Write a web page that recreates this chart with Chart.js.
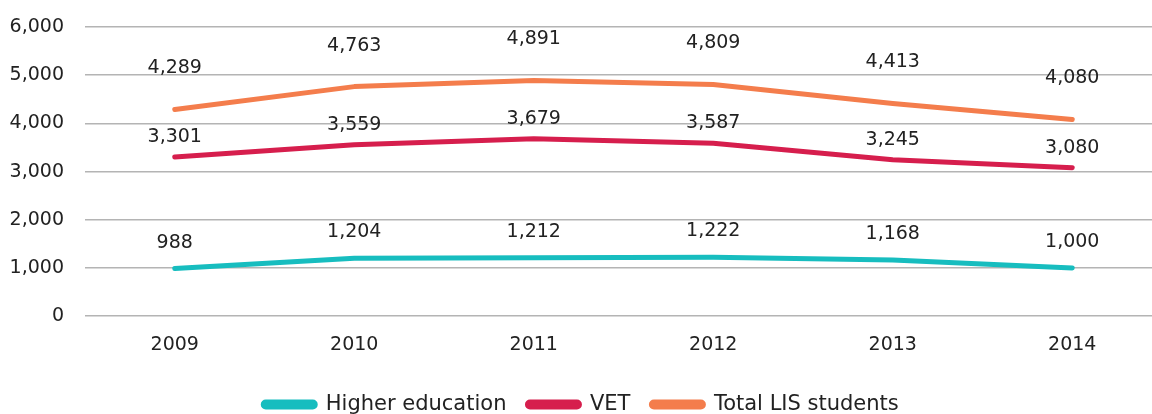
<!DOCTYPE html>
<html>
<head>
<meta charset="utf-8">
<script src="https://cdn.jsdelivr.net/npm/chart.js@4/dist/chart.umd.min.js"></script>
<style>
  html, body { margin: 0; padding: 0; background: #fff; overflow: hidden; }
  #wrap { width: 1162px; height: 425px; }
</style>
</head>
<body>
<div id="wrap"><canvas id="c" width="1162" height="425"></canvas></div>
<script>
const years = ['2009', '2010', '2011', '2012', '2013', '2014'];
const higherEducation = [988, 1204, 1212, 1222, 1168, 1000];
const vet = [3301, 3559, 3679, 3587, 3245, 3080];
const totalLIS = [4289, 4763, 4891, 4809, 4413, 4080];
const seriesNames = ['Higher education', 'VET', 'Total LIS students'];
const yTicks = [0, 1000, 2000, 3000, 4000, 5000, 6000];

const FONT = '"DejaVu Sans", sans-serif';
const FSIZE = 19;
const TXT = '#222222';

const labelPlugin = {
  id: 'pointLabels',
  afterDatasetsDraw(chart) {
    const ctx = chart.ctx;
    ctx.save();
    ctx.font = FSIZE + 'px ' + FONT;
    ctx.fillStyle = TXT;
    ctx.textAlign = 'center';
    ctx.textBaseline = 'middle';
    chart.data.datasets.forEach((ds, i) => {
      const meta = chart.getDatasetMeta(i);
      meta.data.forEach((pt, j) => {
        const v = ds.data[j];
        ctx.fillText(v.toLocaleString('en-US'), pt.x, pt.y - ds.labelOffset);
      });
    });
    ctx.restore();
  }
};

new Chart(document.getElementById('c'), {
  type: 'line',
  data: {
    labels: years,
    datasets: [
      { label: seriesNames[0], data: higherEducation, borderColor: '#17BDBF', backgroundColor: '#17BDBF', labelOffset: 26 },
      { label: seriesNames[1], data: vet, borderColor: '#D61E4D', backgroundColor: '#D61E4D', labelOffset: 20 },
      { label: seriesNames[2], data: totalLIS, borderColor: '#F47D4C', backgroundColor: '#F47D4C', labelOffset: 41 }
    ].map(d => Object.assign(d, {
      borderWidth: 5, pointRadius: 0, tension: 0, fill: false,
      borderCapStyle: 'round', borderJoinStyle: 'round'
    }))
  },
  options: {
    responsive: false,
    animation: false,
    layout: { padding: { top: 27, left: 0, right: 0, bottom: 0 } },
    plugins: {
      tooltip: { enabled: false },
      legend: {
        position: 'bottom',
        labels: {
          font: { family: FONT, size: 21 },
          color: TXT,
          boxWidth: 52,
          boxHeight: 5,
          useBorderRadius: true,
          borderRadius: 2.5,
          padding: 21
        }
      }
    },
    scales: {
      x: {
        offset: true,
        grid: { display: false, drawTicks: false },
        border: { display: false },
        ticks: { font: { family: FONT, size: FSIZE }, color: TXT, padding: 17 }
      },
      y: {
        min: 0, max: 6000,
        afterBuildTicks: (s) => { s.ticks = yTicks.map(v => ({ value: v })); },
        afterFit: (s) => { s.width = 85; },
        grid: { color: '#B4B4B4', lineWidth: 1.5, drawTicks: true, tickLength: 21, tickColor: 'rgba(0,0,0,0)' },
        border: { display: false },
        ticks: {
          font: { family: FONT, size: FSIZE }, color: TXT, padding: 0,
          callback: (v) => v.toLocaleString('en-US')
        }
      }
    }
  },
  plugins: [labelPlugin]
});
</script>
</body>
</html>
